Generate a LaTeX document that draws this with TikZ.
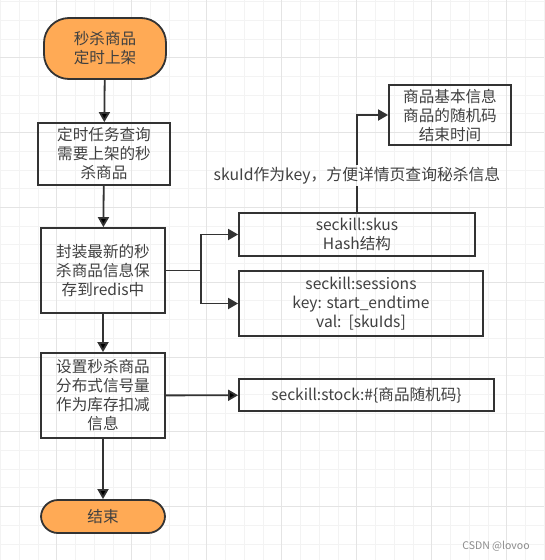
\documentclass[tikz,border=0pt]{standalone}
\usepackage{fontspec}
\setmainfont{Noto Sans CJK SC}
\usepackage{tikz}
\usetikzlibrary{arrows.meta}

\definecolor{lineC}{HTML}{333333}
\definecolor{termC}{HTML}{FFAA55}
\definecolor{gridC}{HTML}{F3F3F3}
\definecolor{gridM}{HTML}{E4E4E4}

\begin{document}
\begin{tikzpicture}[x=1pt, y=-1pt,
		box/.style={draw=lineC, line width=1.8pt, text=black!75, align=center, inner sep=0pt, font=\fontsize{15.6}{19}\selectfont},
		term/.style={box, fill=termC, rounded corners=17pt},
		arr/.style={draw=lineC, line width=1.8pt, -{Triangle[length=10pt,width=11pt]}},
		plain/.style={draw=lineC, line width=1.8pt}]
			% background grid
			\useasboundingbox[fill=white] (0,0) rectangle (544,560);
			\foreach \k in {0,...,29} {
				\draw[gridC, line width=1pt] (0.5+\k*18.75,0) -- (0.5+\k*18.75,560);
				\draw[gridC, line width=1pt] (0,1.7+\k*18.7) -- (544,1.7+\k*18.7);
			}
			\foreach \k in {0,...,6} {
				\draw[gridM, line width=1pt] (56.7+\k*75,0) -- (56.7+\k*75,560);
				\draw[gridM, line width=1pt] (0,57.8+\k*74.8) -- (544,57.8+\k*74.8);
			}

			% main flow
			\node	(start) at (105,48.5) [term, rounded corners=25pt, minimum width=122, minimum height=61] {秒杀商品\\定时上架};
			\node	(task) at (104,154) [box, minimum width=132, minimum height=62] {定时任务查询\\需要上架的秒\\杀商品};
			\node	(save) at (103,270.5) [box, minimum width=124, minimum height=85] {封装最新的秒\\杀商品信息保\\存到redis中};
			\node	(sem) at (103,395.5) [box, minimum width=124, minimum height=85] {设置秒杀商品\\分布式信号量\\作为库存扣减\\信息};
			\node	(stop) at (103,516.5) [term, minimum width=124, minimum height=33] {结束};

			% redis side
			\node	(skus) at (357,234.5) [box, minimum width=236, minimum height=43] {seckill:skus\\Hash结构};
			\node	(sessions) at (361,303.5) [box, minimum width=244, minimum height=65] {seckill:sessions\\key: start\_endtime\\val:\ \ [skuIds]};
			\node	(info) at (450,115) [box, minimum width=122, minimum height=60] {商品基本信息\\商品的随机码\\结束时间};
			\node	(stock) at (366.5,395) [box, minimum width=255, minimum height=32] {seckill:stock:\#\{商品随机码\}};
			\node	(note) at (357,175.5) [text=black!75, inner sep=2pt, font=\fontsize{15.8}{19}\selectfont] {skuId作为key，方便详情页查询秘杀信息};
			\node	(mark) at (496,546) [text=black!45, inner sep=0pt, font=\fontsize{10.5}{12}\selectfont] {CSDN @lovoo};

			\coordinate (split) at (201,270.5);

			\draw[arr]
			(start) edge (task)
			(task) edge (save)
			(save) edge (sem)
			(sem) edge (stop)
			(sem) edge (stock)
			;
			\draw[plain] (save.east) -- (split);
			\draw[arr] (split) |- (skus.west);
			\draw[arr] (split) |- (sessions.west);
			\draw[plain] (skus.north) -- (note.south);
			\draw[arr] (note.north) |- (info.west);
		\end{tikzpicture}
\end{document}
